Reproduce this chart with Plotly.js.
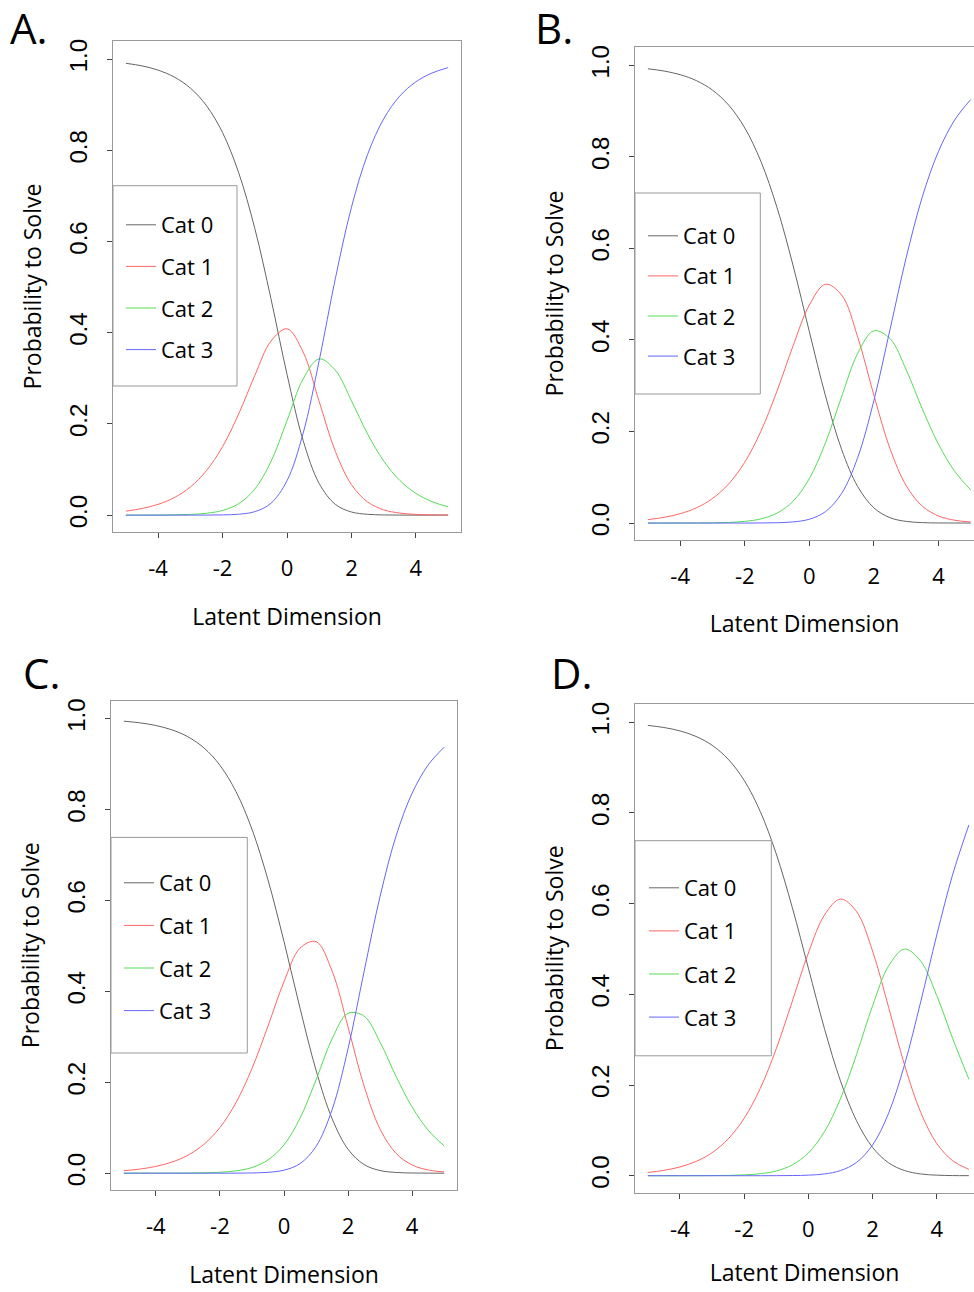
<!DOCTYPE html>
<html>
<head>
<meta charset="utf-8">
<script src="https://cdn.plot.ly/plotly-3.0.1.min.js"></script>
<style>
  html, body { margin: 0; padding: 0; background: #ffffff; }
  #chart { width: 974px; height: 1292px; }
</style>
</head>
<body>
<div id="chart"></div>
<script>
// ---------------- data ----------------
const theta = [-5, -4.5, -4, -3.5, -3, -2.5, -2, -1.5, -1, -0.5, 0, 0.5, 1, 1.5, 2, 2.5, 3, 3.5, 4, 4.5, 5];
const catNames = ['Cat 0', 'Cat 1', 'Cat 2', 'Cat 3'];
const panelLabels = ['A.', 'B.', 'C.', 'D.'];
const xTickVals = [-4, -2, 0, 2, 4];
const xTickText = ['-4', '-2', '0', '2', '4'];
const yTickVals = [0, 0.2, 0.4, 0.6, 0.8, 1.0];
const yTickText = ['0.0', '0.2', '0.4', '0.6', '0.8', '1.0'];
const xTitle = 'Latent Dimension';
const yTitle = 'Probability to Solve';

// Panel A
const panelA_cat0 = [0.9911, 0.9854, 0.9761, 0.9610, 0.9367, 0.8983, 0.8390, 0.7511, 0.6291, 0.4754, 0.3089, 0.1640, 0.0692, 0.0236, 0.0069, 0.0018, 0.0004, 0.0001, 0, 0, 0];
const panelA_cat1 = [0.0088, 0.0145, 0.0237, 0.0384, 0.0617, 0.0976, 0.1502, 0.2218, 0.3062, 0.3815, 0.4087, 0.3578, 0.2488, 0.1400, 0.0670, 0.0289, 0.0117, 0.0045, 0.0017, 0.0006, 0.0002];
const panelA_cat2 = [0, 0.0001, 0.0002, 0.0006, 0.0016, 0.0041, 0.0103, 0.0251, 0.0571, 0.1172, 0.2070, 0.2988, 0.3427, 0.3178, 0.2509, 0.1783, 0.1188, 0.0762, 0.0478, 0.0296, 0.0182];
const panelA_cat3 = [0, 0, 0, 0, 0, 0.0001, 0.0005, 0.0020, 0.0076, 0.0259, 0.0754, 0.1794, 0.3393, 0.5187, 0.6752, 0.7910, 0.8691, 0.9192, 0.9505, 0.9698, 0.9816];

// Panel B
const panelB_cat0 = [0.9924, 0.9875, 0.9795, 0.9666, 0.9458, 0.9132, 0.8632, 0.7900, 0.6890, 0.5616, 0.4182, 0.2779, 0.1609, 0.0795, 0.0331, 0.0117, 0.0036, 0.0010, 0.0002, 0.0001, 0];
const panelB_cat1 = [0.0076, 0.0125, 0.0204, 0.0332, 0.0536, 0.0854, 0.1330, 0.2007, 0.2887, 0.3879, 0.4763, 0.5217, 0.4982, 0.4060, 0.2788, 0.1621, 0.0817, 0.0369, 0.0155, 0.0062, 0.0024];
const panelB_cat2 = [0, 0, 0.0001, 0.0002, 0.0005, 0.0014, 0.0037, 0.0091, 0.0217, 0.0480, 0.0971, 0.1754, 0.2761, 0.3710, 0.4201, 0.4028, 0.3347, 0.2494, 0.1723, 0.1133, 0.0723];
const panelB_cat3 = [0, 0, 0, 0, 0, 0, 0, 0.0002, 0.0007, 0.0025, 0.0084, 0.0250, 0.0648, 0.1435, 0.2679, 0.4234, 0.5800, 0.7127, 0.8120, 0.8804, 0.9254];

// Panel C
const panelC_cat0 = [0.9945, 0.9909, 0.9850, 0.9755, 0.9602, 0.9357, 0.8975, 0.8398, 0.7568, 0.6454, 0.5096, 0.3631, 0.2267, 0.1201, 0.0526, 0.0190, 0.0058, 0.0016, 0.0004, 0.0001, 0];
const panelC_cat1 = [0.0055, 0.0091, 0.0149, 0.0244, 0.0395, 0.0635, 0.1004, 0.1550, 0.2302, 0.3237, 0.4214, 0.4950, 0.5095, 0.4450, 0.3215, 0.1916, 0.0968, 0.0434, 0.0180, 0.0071, 0.0027];
const panelC_cat2 = [0, 0, 0, 0.0001, 0.0003, 0.0008, 0.0020, 0.0051, 0.0125, 0.0291, 0.0624, 0.1209, 0.2051, 0.2954, 0.3518, 0.3456, 0.2879, 0.2127, 0.1453, 0.0947, 0.0599];
const panelC_cat3 = [0, 0, 0, 0, 0, 0, 0, 0.0001, 0.0005, 0.0019, 0.0066, 0.0210, 0.0588, 0.1395, 0.2740, 0.4438, 0.6095, 0.7424, 0.8363, 0.8982, 0.9373];

// Panel D
const panelD_cat0 = [0.9928, 0.9882, 0.9807, 0.9685, 0.9491, 0.9185, 0.8717, 0.8033, 0.7095, 0.5912, 0.4577, 0.3248, 0.2092, 0.1212, 0.0625, 0.0284, 0.0113, 0.0039, 0.0012, 0.0003, 0.0001];
const panelD_cat1 = [0.0072, 0.0118, 0.0193, 0.0314, 0.0507, 0.0809, 0.1265, 0.1922, 0.2799, 0.3846, 0.4909, 0.5744, 0.6099, 0.5825, 0.4954, 0.3712, 0.2433, 0.1396, 0.0711, 0.0328, 0.0140];
const panelD_cat2 = [0, 0, 0, 0.0001, 0.0003, 0.0007, 0.0018, 0.0044, 0.0105, 0.0239, 0.0502, 0.0969, 0.1696, 0.2670, 0.3744, 0.4625, 0.4997, 0.4730, 0.3971, 0.3018, 0.2128];
const panelD_cat3 = [0, 0, 0, 0, 0, 0, 0, 0, 0.0001, 0.0004, 0.0012, 0.0039, 0.0113, 0.0293, 0.0677, 0.1379, 0.2457, 0.3834, 0.5306, 0.6651, 0.7731];

// ---------------- layout configuration (pixels in the 974x1292 page) ----------------
const W = 974, H = 1292;
const lineColors = ['#666666', '#ff6666', '#55dd55', '#6666ff'];

const panels = [
  { series: [panelA_cat0, panelA_cat1, panelA_cat2, panelA_cat3],
    xd: [113, 461], yd: [41, 532], xr: [-5.4, 5.4], mirrorY: true, xStand: 27,
    legBox: [113, 185.7, 237, 386], legPos: [121, 204], gap: 10, label: [29, 27.5] },
  { series: [panelB_cat0, panelB_cat1, panelB_cat2, panelB_cat3],
    xd: [635, 974], yd: [47, 540], xr: [-5.4, 5.1], mirrorY: false, xStand: 26,
    legBox: [635, 193, 760.3, 394], legPos: [643, 215], gap: 8.5, label: [554, 27.5] },
  { series: [panelC_cat0, panelC_cat1, panelC_cat2, panelC_cat3],
    xd: [111, 457], yd: [700.5, 1190], xr: [-5.4, 5.4], mirrorY: true, xStand: 27,
    legBox: [111, 837.4, 247.3, 1053], legPos: [119, 862], gap: 11, label: [41.5, 672.5] },
  { series: [panelD_cat0, panelD_cat1, panelD_cat2, panelD_cat3],
    xd: [635, 974], yd: [704, 1192.5], xr: [-5.4, 5.16], mirrorY: false, xStand: 22,
    legBox: [635, 840.7, 771.3, 1055.8], legPos: [644, 867], gap: 11.5, label: [572, 672.5] }
];

const traces = [];
const layout = {
  width: W, height: H,
  margin: { l: 0, r: 0, t: 0, b: 0, pad: 0 },
  paper_bgcolor: '#ffffff', plot_bgcolor: '#ffffff',
  font: { family: 'Open Sans, sans-serif', color: '#000000' },
  showlegend: true,
  shapes: [], annotations: []
};

panels.forEach((p, i) => {
  const sfx = i === 0 ? '' : String(i + 1);
  const legName = 'legend' + sfx;
  p.series.forEach((ys, k) => {
    traces.push({
      type: 'scatter', mode: 'lines',
      x: theta, y: ys,
      name: catNames[k],
      xaxis: 'x' + sfx, yaxis: 'y' + sfx,
      legend: legName,
      legendgroup: 'p' + i + 'c' + k,
      line: { color: lineColors[k], width: 1, shape: 'spline', smoothing: 1 },
      hoverinfo: 'skip'
    });
  });

  layout['xaxis' + sfx] = {
    domain: [p.xd[0] / W, p.xd[1] / W], range: p.xr, anchor: 'y' + sfx,
    tickmode: 'array', tickvals: xTickVals, ticktext: xTickText,
    ticks: 'outside', ticklen: 5, tickwidth: 1, tickcolor: '#444444',
    showline: true, linecolor: '#999999', linewidth: 1, mirror: true,
    showgrid: false, zeroline: false, fixedrange: true,
    tickfont: { family: 'Open Sans, sans-serif', size: 22, color: '#000000' },
    ticklabelstandoff: 12,
    title: { text: xTitle, font: { family: 'Open Sans, sans-serif', size: 23, color: '#000000' }, standoff: p.xStand }
  };
  layout['yaxis' + sfx] = {
    domain: [1 - p.yd[1] / H, 1 - p.yd[0] / H], range: [-0.037, 1.04], anchor: 'x' + sfx,
    tickmode: 'array', tickvals: yTickVals, ticktext: yTickText, tickangle: -90,
    ticks: 'outside', ticklen: 5, tickwidth: 1, tickcolor: '#444444',
    showline: true, linecolor: '#999999', linewidth: 1, mirror: p.mirrorY,
    showgrid: false, zeroline: false, fixedrange: true,
    tickfont: { family: 'Liberation Sans, Arial, sans-serif', size: 24, color: '#000000' },
    ticklabelstandoff: 10,
    title: { text: yTitle, font: { family: 'Open Sans, sans-serif', size: 23, color: '#000000' }, standoff: 17 }
  };
  layout[legName] = {
    x: p.legPos[0] / W, y: 1 - p.legPos[1] / H, xanchor: 'left', yanchor: 'top',
    bgcolor: 'rgba(0,0,0,0)', borderwidth: 0,
    font: { family: 'Open Sans, sans-serif', size: 22, color: '#000000' },
    traceorder: 'grouped', tracegroupgap: p.gap, itemwidth: 30,
    itemclick: false, itemdoubleclick: false
  };
  layout.shapes.push({
    type: 'rect', xref: 'paper', yref: 'paper', layer: 'above',
    x0: p.legBox[0] / W, x1: p.legBox[2] / W,
    y0: 1 - p.legBox[3] / H, y1: 1 - p.legBox[1] / H,
    line: { color: '#999999', width: 1 }, fillcolor: '#ffffff'
  });
  layout.annotations.push({
    xref: 'paper', yref: 'paper', x: p.label[0] / W, y: 1 - p.label[1] / H,
    xanchor: 'center', yanchor: 'middle', showarrow: false,
    text: panelLabels[i], font: { family: 'Open Sans, sans-serif', size: 42, color: '#000000' }
  });
});

Plotly.newPlot('chart', traces, layout, { displayModeBar: false, staticPlot: true });
</script>
</body>
</html>
